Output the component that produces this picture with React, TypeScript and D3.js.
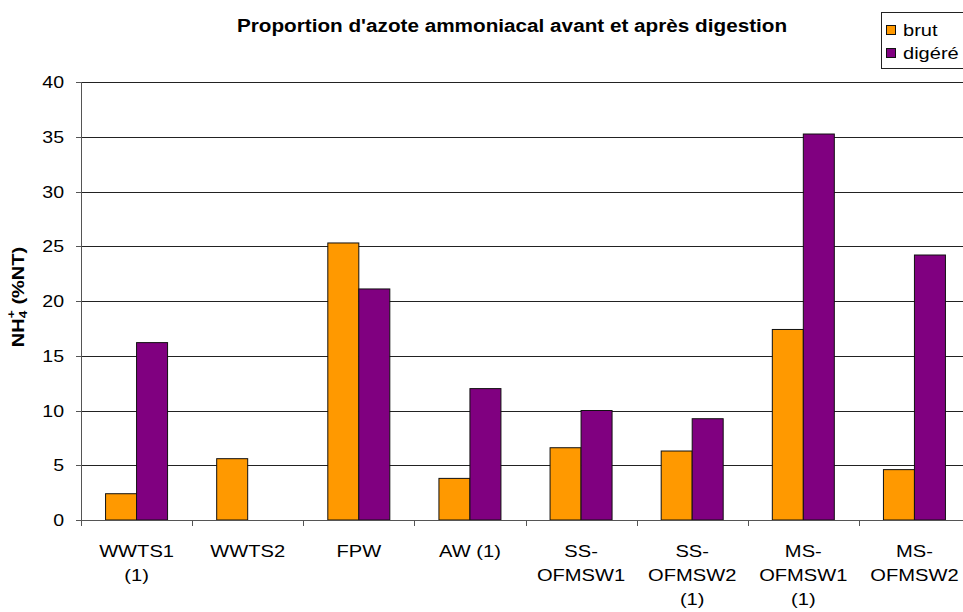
import React from "react";
import * as d3 from "d3";

const categories = [
  ["WWTS1", "(1)"],
  ["WWTS2"],
  ["FPW"],
  ["AW (1)"],
  ["SS-", "OFMSW1"],
  ["SS-", "OFMSW2", "(1)"],
  ["MS-", "OFMSW1", "(1)"],
  ["MS-", "OFMSW2"],
];
const brut = [2.4, 5.6, 25.3, 3.8, 6.6, 6.3, 17.4, 4.6];
const digere = [16.2, 0, 21.1, 12.0, 10.0, 9.25, 35.25, 24.2];
const yTicks = [0, 5, 10, 15, 20, 25, 30, 35, 40];
const seriesNames = ["brut", "digéré"];
const colors = ["#FF9900", "#800080"];

const W = 963;
const H = 612;
const left = 81;
const right = 970;
const top = 82;
const bottom = 520;
const font = "'Liberation Sans', Arial, sans-serif";

export default function App() {
  const x = d3
    .scaleBand<number>()
    .domain(d3.range(categories.length))
    .range([left, right])
    .paddingInner(0)
    .paddingOuter(0);
  const y = d3.scaleLinear().domain([0, 40]).range([bottom, top]);
  const barW = 31;
  const series = [brut, digere];

  return (
    <svg
      width={W}
      height={H}
      style={{ position: "absolute", left: 0, top: 0, background: "#fff" }}
      fontFamily={font}
    >
      <rect x={0} y={0} width={W} height={H} fill="#fff" />
      {/* gridlines */}
      {yTicks.map((t) => (
        <line
          key={"g" + t}
          x1={left}
          x2={right}
          y1={Math.round(y(t)) + 0.5}
          y2={Math.round(y(t)) + 0.5}
          stroke="#222"
          strokeWidth={1}
        />
      ))}
      {/* bars */}
      {categories.map((_, i) => {
        const cx = (x(i) as number) + x.bandwidth() / 2;
        return series.map((s, k) =>
          s[i] > 0 ? (
            <rect
              key={"b" + i + "-" + k}
              x={cx - barW + k * barW}
              y={y(s[i])}
              width={barW}
              height={y(0) - y(s[i])}
              fill={colors[k]}
              stroke="#111"
              strokeWidth={1}
            />
          ) : null
        );
      })}
      {/* y axis */}
      <line x1={left + 0.5} x2={left + 0.5} y1={top} y2={bottom} stroke="#555" />
      {yTicks.map((t) => (
        <g key={"t" + t}>
          <line
            x1={left - 5}
            x2={left}
            y1={Math.round(y(t)) + 0.5}
            y2={Math.round(y(t)) + 0.5}
            stroke="#555"
          />
          <text
            transform={`translate(64,${y(t)}) scale(1.15,1)`}
            dy="0.36em"
            textAnchor="end"
            fontSize={17}
            fill="#000"
          >
            {t}
          </text>
        </g>
      ))}
      {/* x axis */}
      <line x1={left} x2={right} y1={bottom + 0.5} y2={bottom + 0.5} stroke="#555" />
      {d3.range(categories.length + 1).map((i) => {
        const xx = Math.round(left + i * x.step()) + 0.5;
        return (
          <line key={"xt" + i} x1={xx} x2={xx} y1={bottom} y2={bottom + 6} stroke="#555" />
        );
      })}
      {categories.map((lines, i) => {
        const cx = (x(i) as number) + x.bandwidth() / 2;
        return lines.map((l, j) => (
          <text
            key={"xl" + i + "-" + j}
            transform={`translate(${cx},${557 + j * 24}) scale(1.22,1)`}
            textAnchor="middle"
            fontSize={16.5}
            fill="#000"
          >
            {l}
          </text>
        ));
      })}
      {/* title */}
      <text
        transform="translate(512,32) scale(1.12,1)"
        textAnchor="middle"
        fontSize={18.5}
        fontWeight="bold"
        fill="#000"
      >
        Proportion d'azote ammoniacal avant et après digestion
      </text>
      {/* y label */}
      <text
        transform="translate(24,297) rotate(-90) scale(1.25,1)"
        textAnchor="middle"
        fontSize={16}
        fontWeight="bold"
        fill="#000"
      >
        NH
        <tspan fontSize={11} dy={3}>4</tspan>
        <tspan fontSize={11} dx={-6} dy={-12}>+</tspan>
        <tspan dy={9}> (%NT)</tspan>
      </text>
      {/* legend */}
      <rect x={881.5} y={12.5} width={100} height={56} fill="#fff" stroke="#222" />
      {seriesNames.map((n, k) => (
        <g key={"lg" + k}>
          <rect
            x={886.5}
            y={25.5 + k * 23}
            width={9}
            height={9}
            fill={colors[k]}
            stroke="#111"
          />
          <text
            transform={`translate(903,${36 + k * 23}) scale(1.18,1)`}
            fontSize={17}
            fill="#000"
          >
            {n}
          </text>
        </g>
      ))}
    </svg>
  );
}
